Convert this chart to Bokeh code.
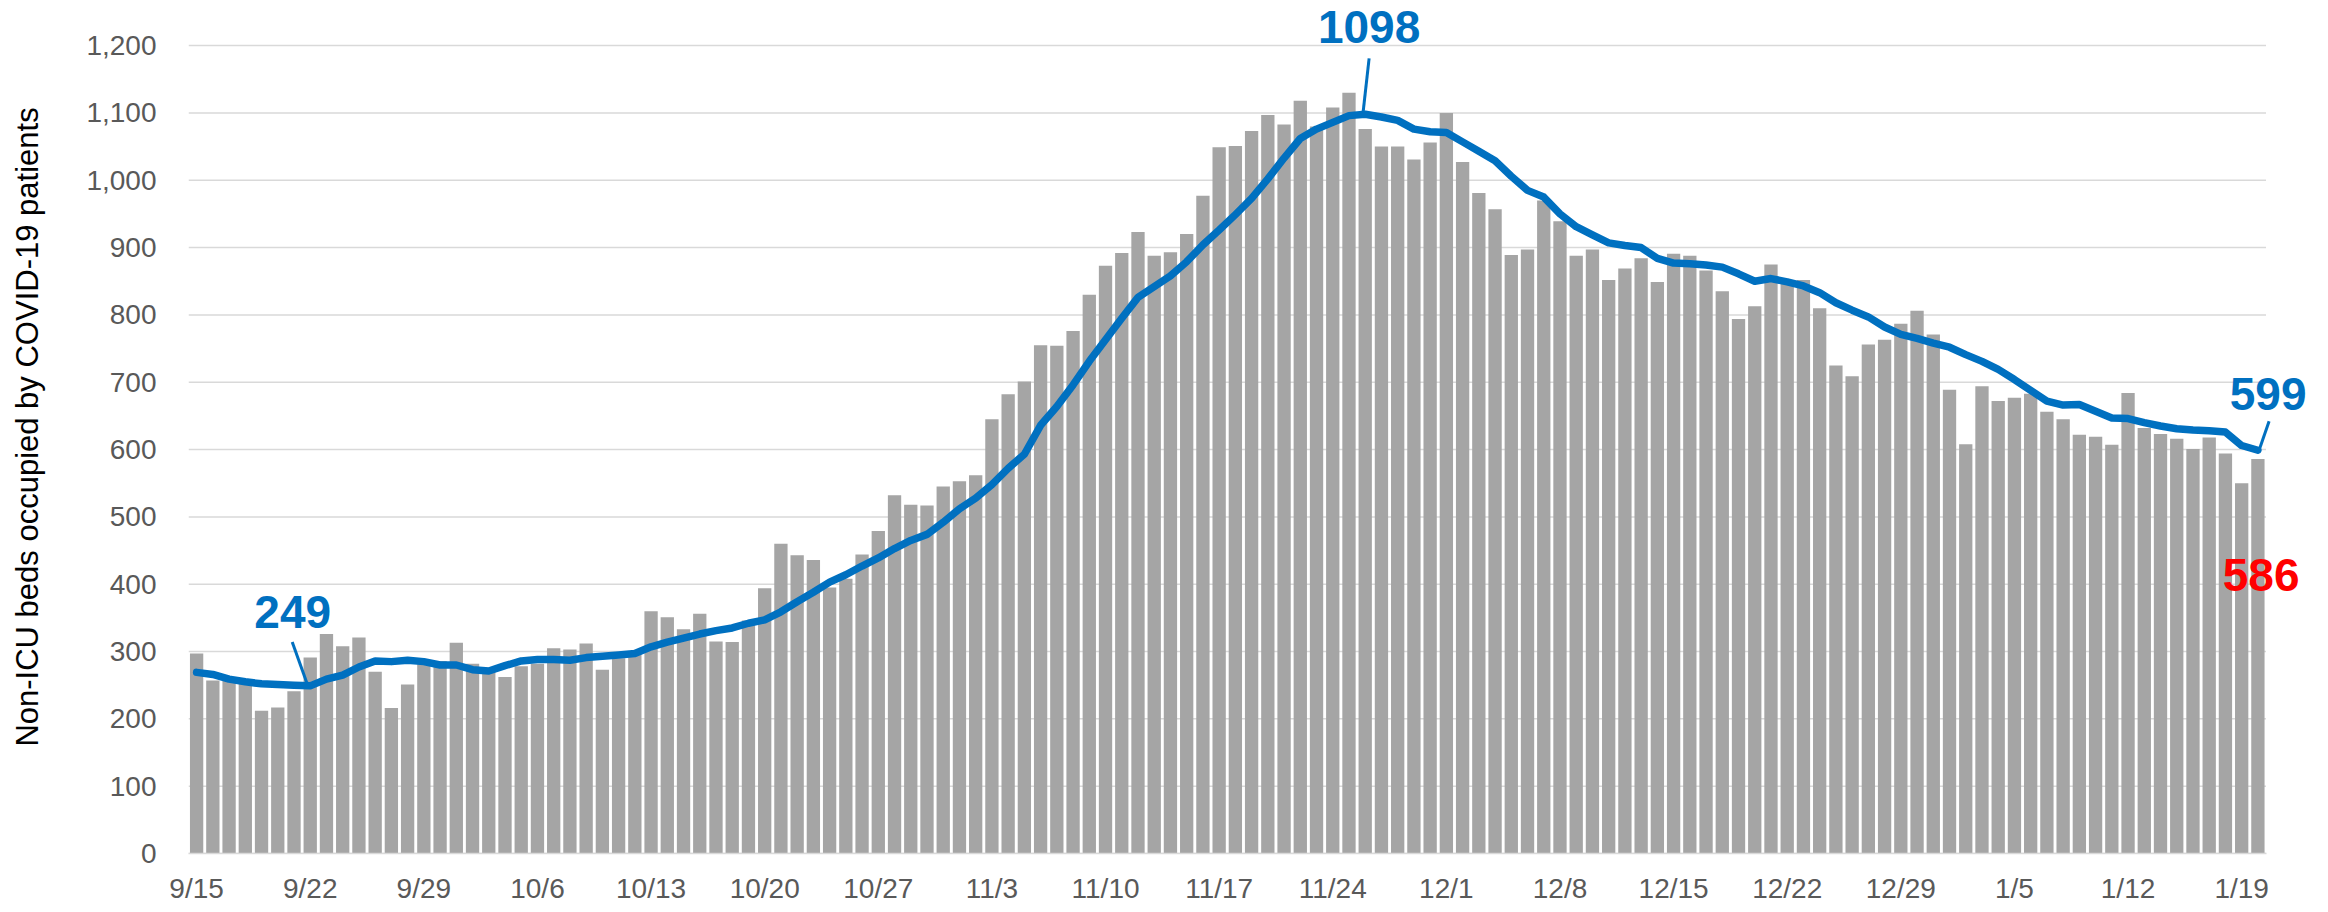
import numpy as np
import pandas as pd
from bokeh.plotting import figure
from bokeh.models import ColumnDataSource, Range1d, FixedTicker, NumeralTickFormatter, Label, Arrow
from bokeh.embed import file_html
from bokeh.resources import INLINE

# ---------------- data ----------------
start_date = "2020-09-15"

beds = [297, 257, 262, 257, 212, 217, 241, 291, 326, 308,
        321, 270, 216, 251, 283, 286, 313, 282, 273, 262,
        278, 282, 305, 303, 312, 273, 290, 299, 360, 351,
        333, 356, 315, 314, 346, 394, 460, 443, 436, 395,
        408, 444, 479, 532, 518, 517, 545, 553, 562, 645,
        682, 701, 755, 754, 776, 830, 873, 892, 923, 888,
        893, 920, 977, 1049, 1051, 1073, 1097, 1083, 1118, 1080,
        1108, 1130, 1076, 1050, 1050, 1031, 1056, 1100, 1027, 981,
        957, 889, 897, 970, 939, 888, 897, 852, 869, 884,
        849, 891, 888, 866, 835, 794, 813, 875, 851, 852,
        810, 725, 709, 756, 763, 787, 806, 771, 689, 608,
        694, 672, 677, 683, 656, 645, 622, 619, 607, 684,
        632, 623, 616, 601, 618, 594, 550, 586]

avg7 = [269, 266, 259, 255, 252, 251, 250, 249, 259, 265,
        277, 286, 285, 287, 285, 280, 280, 273, 271, 279,
        286, 288, 288, 287, 291, 293, 295, 297, 307, 314,
        320, 326, 331, 335, 342, 347, 359, 374, 388, 403,
        414, 427, 439, 453, 465, 474, 492, 512, 528, 548,
        572, 593, 636, 664, 696, 731, 763, 795, 826, 842,
        858, 879, 904, 926, 949, 973, 1002, 1033, 1062, 1076,
        1086, 1096, 1098, 1094, 1089, 1076, 1072, 1071, 1057, 1043,
        1029, 1006, 985, 975, 950, 931, 919, 907, 903, 900,
        884, 877, 876, 874, 871, 861, 850, 854, 849, 843,
        833, 818, 807, 797, 782, 771, 765, 758, 752, 741,
        731, 719, 704, 688, 672, 666, 667, 657, 647, 646,
        640, 635, 631, 629, 628, 626, 606, 599]

tick_labels = ["9/15", "9/22", "9/29", "10/6", "10/13", "10/20", "10/27", "11/3",
               "11/10", "11/17", "11/24", "12/1", "12/8", "12/15", "12/22", "12/29",
               "1/5", "1/12", "1/19"]
y_ticks = [0, 100, 200, 300, 400, 500, 600, 700, 800, 900, 1000, 1100, 1200]
y_title = "Non-ICU beds occupied by COVID-19 patients"

# ---------------- build ----------------
n = len(beds)
dates = pd.date_range(start_date, periods=n)
day_labels = [f"{d.month}/{d.day}" for d in dates]
xs = list(range(n))
tick_pos = [i for i, s in enumerate(day_labels) if s in tick_labels]
overrides = {i: day_labels[i] for i in tick_pos}

src = ColumnDataSource(dict(x=xs, beds=beds, avg=avg7))

BLUE = "#0070C0"
GRAY_BAR = "#A5A5A5"
GRID = "#D9D9D9"
FONT = "Liberation Sans, Arial, sans-serif"

# extra room on the right of the category range keeps the end labels inside the frame
p = figure(width=2328, height=912,
           x_range=Range1d(-0.5, 131.35), y_range=Range1d(0, 1267),
           output_backend="svg", toolbar_location=None,
           min_border_left=188, min_border_right=0,
           min_border_top=0, min_border_bottom=59)
p.outline_line_color = None
p.background_fill_color = "white"
p.border_fill_color = "white"

# horizontal gridlines limited to the category span
p.xgrid.grid_line_color = None
p.ygrid.grid_line_color = None
p.segment(x0=[-0.5] * len(y_ticks), x1=[n - 0.5] * len(y_ticks),
          y0=y_ticks, y1=y_ticks, line_color=GRID, line_width=1.5, level="underlay")

p.vbar(x="x", top="beds", width=0.82, source=src,
       fill_color=GRAY_BAR, line_color=None)
p.line(x="x", y="avg", source=src, line_color=BLUE, line_width=7.5,
       line_join="round", line_cap="round")

# y axis
p.yaxis.ticker = FixedTicker(ticks=y_ticks)
p.yaxis.formatter = NumeralTickFormatter(format="0,0")
p.yaxis.axis_line_color = None
p.yaxis.major_tick_line_color = None
p.yaxis.minor_tick_line_color = None
p.yaxis.major_tick_out = 0
p.yaxis.major_tick_in = 0
p.yaxis.major_label_text_font = FONT
p.yaxis.major_label_text_font_size = "28px"
p.yaxis.major_label_text_color = "#595959"
p.yaxis.major_label_standoff = 32
p.yaxis.axis_label = y_title
p.yaxis.axis_label_text_font = FONT
p.yaxis.axis_label_text_font_size = "31px"
p.yaxis.axis_label_text_font_style = "normal"
p.yaxis.axis_label_text_color = "#000000"
p.yaxis.axis_label_standoff = 38

# x axis
p.xaxis.ticker = FixedTicker(ticks=tick_pos)
p.xaxis.major_label_overrides = overrides
p.xaxis.bounds = (-0.5, n - 0.5)
p.xaxis.axis_line_color = GRID
p.xaxis.axis_line_width = 1.5
p.xaxis.major_tick_line_color = None
p.xaxis.minor_tick_line_color = None
p.xaxis.major_tick_out = 0
p.xaxis.major_tick_in = 0
p.xaxis.major_label_text_font = FONT
p.xaxis.major_label_text_font_size = "28px"
p.xaxis.major_label_text_color = "#595959"
p.xaxis.major_label_standoff = 19

# annotations
i_peak = int(np.argmax(avg7))
i_min = int(np.argmin(avg7[:30]))
i_last = n - 1

ann_style = dict(text_font=FONT, text_font_style="bold", text_font_size="46px",
                 text_align="center", text_baseline="middle")

p.add_layout(Label(x=i_peak + 0.24, y=avg7[i_peak] + 129, text=str(avg7[i_peak]),
                   text_color=BLUE, **ann_style))
p.add_layout(Arrow(x_start=i_peak + 0.24, y_start=avg7[i_peak] + 83,
                   x_end=i_peak - 0.13, y_end=avg7[i_peak] + 3,
                   end=None, line_color=BLUE, line_width=3))

p.add_layout(Label(x=i_min - 1.08, y=avg7[i_min] + 110, text=str(avg7[i_min]),
                   text_color=BLUE, **ann_style))
p.add_layout(Arrow(x_start=i_min - 1.11, y_start=avg7[i_min] + 65,
                   x_end=i_min - 0.19, y_end=avg7[i_min] + 3,
                   end=None, line_color=BLUE, line_width=3))

p.add_layout(Label(x=i_last + 0.63, y=avg7[i_last] + 84, text=str(avg7[i_last]),
                   text_color=BLUE, **ann_style))
p.add_layout(Arrow(x_start=i_last + 0.69, y_start=avg7[i_last] + 43,
                   x_end=i_last + 0.03, y_end=avg7[i_last] - 3,
                   end=None, line_color=BLUE, line_width=3))

p.add_layout(Label(x=i_last + 0.2, y=beds[i_last] - 173, text=str(beds[i_last]),
                   text_color="#FF0000", **ann_style))

open("out.html", "w").write(file_html(p, INLINE))
